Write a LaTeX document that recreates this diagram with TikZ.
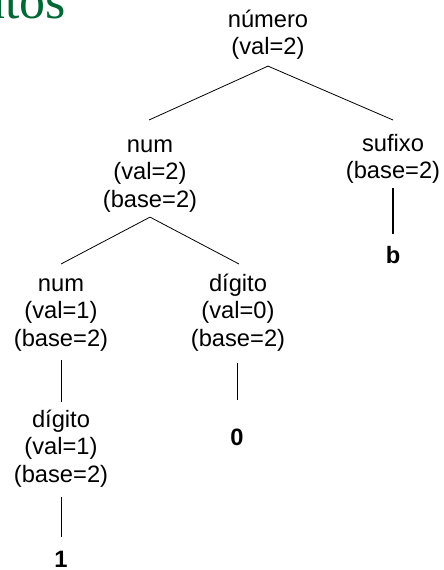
\documentclass[tikz,border=0pt]{standalone}
\usepackage{fontspec}
\setmainfont{Liberation Sans}
\newfontfamily\titlefont{Liberation Serif}
\definecolor{titlegreen}{RGB}{0,104,52}
\newcommand\topstrut{\rule{0pt}{17.8pt}}
\begin{document}
\begin{tikzpicture}[x=1pt,y=-1pt,
  lbl/.style={align=center, inner sep=0pt, anchor=north,
    font=\fontsize{23.7}{27.5}\selectfont},
  leaf/.style={inner sep=0pt, anchor=north,
    font=\fontsize{23.7}{27.5}\selectfont\bfseries},
  edge/.style={line width=0.8pt},
  boldedge/.style={line width=1.6pt}]
\useasboundingbox (0,0) rectangle (444,570);
\clip (0,0) rectangle (444,570);

% slide title fragment, cut by the frame
\node[anchor=base west, inner sep=0pt, text=titlegreen,
  font=\titlefont\fontsize{52}{56}\selectfont] (title) at (-21,18.5) {utos};

% tree nodes
\node[lbl] (numero) at (268,9.2)   {\topstrut número\\(val=2)};
\node[lbl] (num2)   at (150,134.2) {\topstrut num\\(val=2)\\(base=2)};
\node[lbl] (sufixo) at (393,133.2) {\topstrut sufixo\\(base=2)};
\node[lbl] (num1)   at (61,273.2)  {\topstrut num\\(val=1)\\(base=2)};
\node[lbl] (dig0)   at (238,273.2) {\topstrut dígito\\(val=0)\\(base=2)};
\node[lbl] (dig1)   at (61,409.2)  {\topstrut dígito\\(val=1)\\(base=2)};
\node[leaf] (b)     at (393,245.2) {\topstrut b};
\node[leaf] (zero)  at (237,427.2) {\topstrut 0};
\node[leaf] (one)   at (61,549.2)  {\topstrut 1};

% connectors
\draw[edge] ([yshift=-6.3pt]numero.south) -- ([yshift=14.2pt,xshift=-1pt]num2.north);
\draw[edge] ([yshift=-6.3pt]numero.south) -- ([yshift=13.2pt]sufixo.north);
\draw[edge] ([yshift=-4.8pt]num2.south) -- ([yshift=9.2pt]num1.north);
\draw[edge] ([yshift=-4.8pt]num2.south) -- ([yshift=9.2pt,xshift=1pt]dig0.north);
\draw[edge] ([yshift=-8.8pt]num1.south) -- ([yshift=7.2pt]dig1.north);
\draw[edge] ([yshift=-11.8pt,xshift=-1pt]dig0.south) -- ([yshift=27.2pt]zero.north);
\draw[edge] ([yshift=-9.8pt]dig1.south) -- ([yshift=12.2pt]one.north);
\draw[boldedge] ([yshift=-4.3pt]sufixo.south) -- ([yshift=11.2pt]b.north);
\end{tikzpicture}
\end{document}
